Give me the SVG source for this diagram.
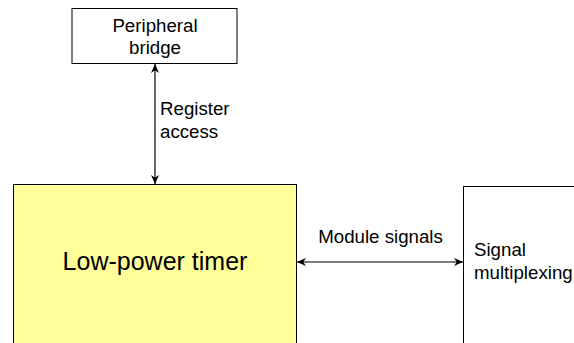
<svg xmlns="http://www.w3.org/2000/svg" width="574" height="343" viewBox="0 0 574 343">
<defs>
<marker id="ah" viewBox="0 0 10 10" refX="10" refY="5" markerWidth="10" markerHeight="9" markerUnits="userSpaceOnUse" orient="auto-start-reverse">
<path d="M0,0.5 L10,5 L0,9.5 L3,5 Z" fill="#000"/>
</marker>
</defs>
<style>
text{font-family:"Liberation Sans",Arial,sans-serif;fill:#000;font-size:18.7px}
.box{stroke:#000;stroke-width:1}
.c{stroke:#000;stroke-width:1.2;fill:none}
</style>
<rect width="574" height="343" fill="#fff"/>
<g id="peripheral-bridge">
<rect class="box" x="72" y="8.5" width="165" height="55" fill="#fff"/>
<text x="155" y="31.5" text-anchor="middle">Peripheral</text>
<text x="155" y="53.5" text-anchor="middle">bridge</text>
</g>
<g id="low-power-timer">
<rect class="box" x="13.5" y="184.5" width="283" height="170" fill="#ffff99"/>
<text x="155" y="270" font-size="25" style="font-size:25px" text-anchor="middle">Low-power timer</text>
</g>
<g id="signal-multiplexing">
<rect class="box" x="463.5" y="186.5" width="130" height="170" fill="#fff"/>
<text x="474" y="256">Signal</text>
<text x="474" y="279">multiplexing</text>
</g>
<g id="connectors">
<line class="c" x1="155" y1="64" x2="155" y2="184" marker-start="url(#ah)" marker-end="url(#ah)"/>
<text x="160" y="115">Register</text>
<text x="160" y="138">access</text>
<line class="c" x1="297" y1="262" x2="463" y2="262" marker-start="url(#ah)" marker-end="url(#ah)"/>
<text x="380.5" y="243" text-anchor="middle">Module signals</text>
</g>
</svg>
